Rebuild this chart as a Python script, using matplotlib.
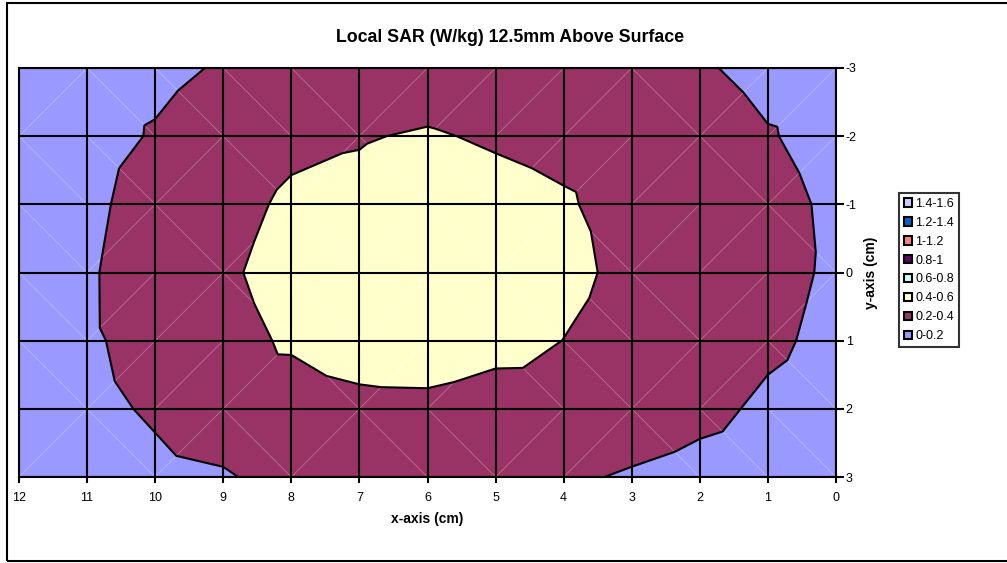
import numpy as np
import matplotlib
matplotlib.use("Agg")
import matplotlib.pyplot as plt
import matplotlib.tri as mtri
from matplotlib.patches import Patch, Rectangle

plt.rcParams['font.family'] = ['Liberation Sans', 'DejaVu Sans']
plt.rcParams['axes.unicode_minus'] = False

# measurement grid (cm)
x_cm = np.arange(0, 13)
y_cm = np.arange(-3, 4)

# local SAR (W/kg), rows y=-3..3, columns x=0..12
sar_y_m3 = [0.10, 0.127, 0.228, 0.24, 0.26, 0.28, 0.308, 0.28, 0.25, 0.2166, 0.155, 0.12, 0.08]
sar_y_m2 = [0.117, 0.216, 0.33, 0.31, 0.347, 0.38, 0.415, 0.39, 0.36, 0.29, 0.215, 0.129, 0.09]
sar_y_m1 = [0.16, 0.271, 0.32, 0.33, 0.42, 0.46, 0.48, 0.44, 0.43, 0.339, 0.28, 0.157, 0.10]
sar_y_0 = [0.17, 0.264, 0.32, 0.37, 0.43, 0.48, 0.50, 0.48, 0.46, 0.375, 0.30, 0.178, 0.12]
sar_y_p1 = [0.1436, 0.24, 0.31, 0.35, 0.3988, 0.44, 0.46, 0.45, 0.43, 0.323, 0.26, 0.177, 0.11]
sar_y_p2 = [0.10, 0.16, 0.26, 0.33, 0.34, 0.342, 0.374, 0.372, 0.287, 0.28, 0.2194, 0.159, 0.09]
sar_y_p3 = [0.06, 0.08, 0.124, 0.177, 0.2345, 0.25, 0.26, 0.255, 0.2496, 0.186, 0.164, 0.10, 0.07]

levels = [0, 0.2, 0.4, 0.6, 0.8, 1.0, 1.2, 1.4, 1.6]
band_labels = ['0-0.2', '0.2-0.4', '0.4-0.6', '0.6-0.8', '0.8-1', '1-1.2', '1.2-1.4', '1.4-1.6']
band_colors = ['#9999FF', '#993366', '#FFFFCC', '#CCFFFF', '#660066', '#FF8080', '#0066CC', '#CCCCFF']

sar = np.array([sar_y_m3, sar_y_m2, sar_y_m1, sar_y_0, sar_y_p1, sar_y_p2, sar_y_p3])
X, Y = np.meshgrid(x_cm, y_cm)
nx = len(x_cm)

# split every cell into two triangles along the corner pair with the larger sum
triangles = []
for j in range(len(y_cm) - 1):
    for i in range(nx - 1):
        a = j * nx + i
        b = a + 1
        c = a + nx
        d = c + 1
        if sar.flat[a] + sar.flat[d] > sar.flat[b] + sar.flat[c]:
            triangles += [[a, b, d], [a, d, c]]
        else:
            triangles += [[a, b, c], [b, d, c]]
tri = mtri.Triangulation(X.ravel(), Y.ravel(), triangles)

fig = plt.figure(figsize=(10.07, 5.63), dpi=100)
ax = fig.add_axes([19 / 1007, 1 - 477 / 563, 817 / 1007, 409 / 563])

ax.tricontourf(tri, sar.ravel(), levels=levels, colors=band_colors, zorder=1)
ax.triplot(tri, color='white', lw=0.6, alpha=0.3, zorder=2)
ax.tricontour(tri, sar.ravel(), levels=levels[1:-1], colors='black', linewidths=1.5, zorder=3)

ax.set_xlim(12, 0)
ax.set_ylim(3, -3)
ax.set_xticks(x_cm)
ax.set_yticks(y_cm)
ax.set_xticklabels([str(v) for v in x_cm])
ax.set_yticklabels([str(v) for v in y_cm])
ax.grid(True, color='black', lw=1.5, zorder=4)
ax.set_axisbelow(False)
for s in ax.spines.values():
    s.set_linewidth(1.5)
    s.set_zorder(5)

ax.yaxis.tick_right()
ax.yaxis.set_label_position('right')
ax.tick_params(axis='x', direction='out', length=4.5, width=1.5, pad=6, labelsize=9)
ax.tick_params(axis='y', direction='out', length=6, width=1.5, pad=1, labelsize=9)

ax.set_xlabel('x-axis (cm)', fontsize=10, fontweight='bold', labelpad=6)
ax.set_ylabel('y-axis (cm)', fontsize=10, fontweight='bold', labelpad=5)
fig.text(510 / 1007, 1 - 37 / 563, 'Local SAR (W/kg) 12.5mm Above Surface',
         ha='center', va='center', fontsize=12.75, fontweight='bold')

handles = [Patch(facecolor=c, edgecolor='black', lw=1.5) for c in band_colors]
leg = fig.legend(handles[::-1], band_labels[::-1], loc='upper left',
                 bbox_to_anchor=(899 / 1007, 1 - 193 / 563), fontsize=9,
                 frameon=True, fancybox=False, handlelength=0.65, handleheight=0.65,
                 handletextpad=0.27, labelspacing=0.55, borderpad=0.4, borderaxespad=0)
leg.get_frame().set_edgecolor('black')
leg.get_frame().set_linewidth(1.5)

fig.patches.append(Rectangle((7 / 1007, 1 - 561 / 563), 1.2, 558 / 563,
                             transform=fig.transFigure, fill=False, lw=1.5,
                             edgecolor='black', clip_on=False))

fig.savefig('out.png', dpi=100)
